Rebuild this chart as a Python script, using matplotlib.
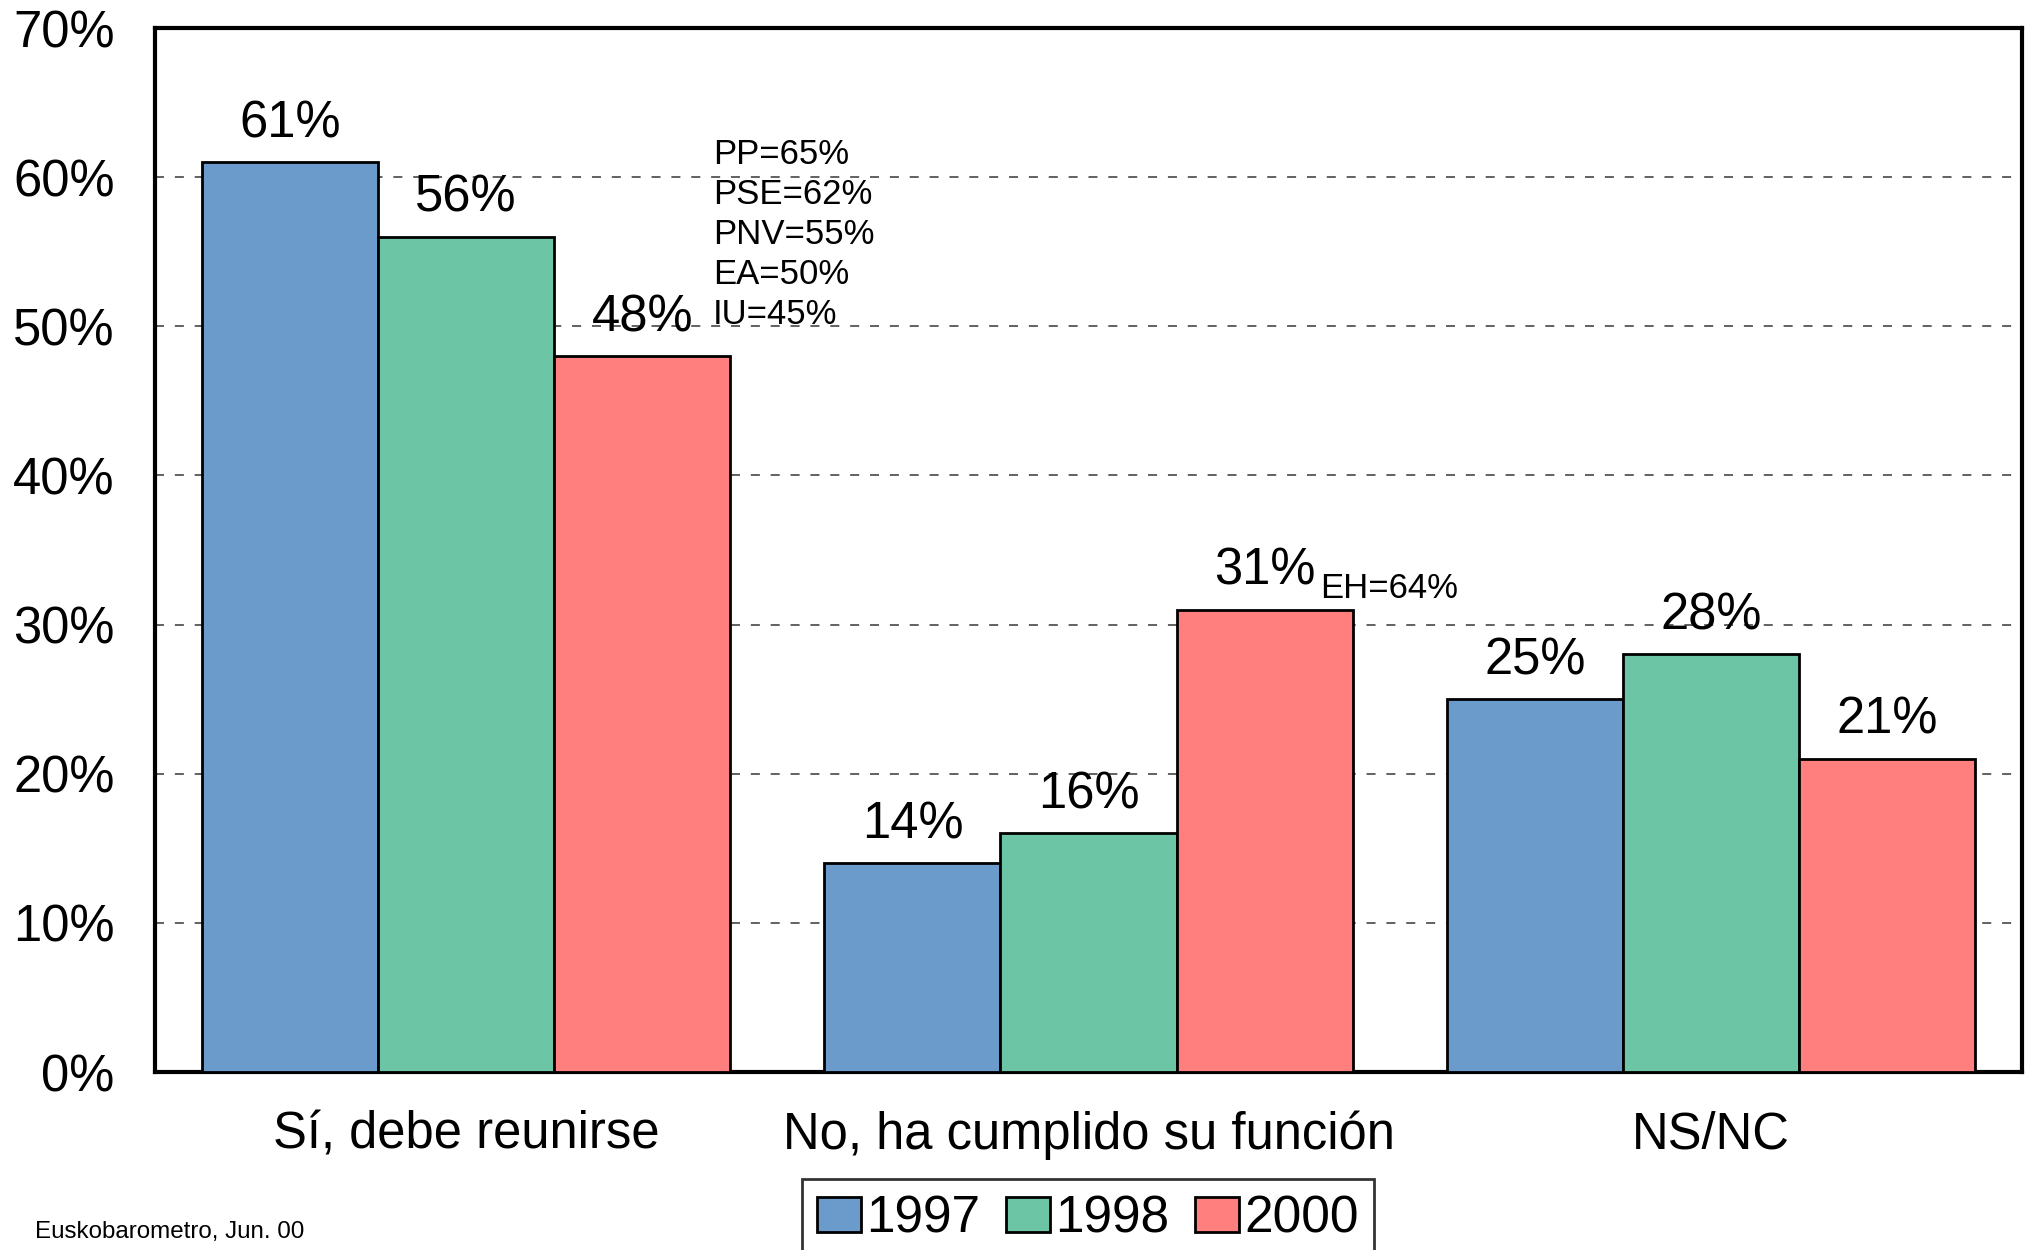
import matplotlib
matplotlib.use('Agg')
from matplotlib import pyplot as plt
import numpy as np

categories = ['Sí, debe reunirse', 'No, ha cumplido su función', 'NS/NC']
years = ['1997', '1998', '2000']
values_1997 = [61, 14, 25]
values_1998 = [56, 16, 28]
values_2000 = [48, 31, 21]
party_notes = ['PP=65%', 'PSE=62%', 'PNV=55%', 'EA=50%', 'IU=45%']
eh_note = 'EH=64%'
source = 'Euskobarometro, Jun. 00'

colors = ['#6a9bcb', '#6cc6a6', '#ff7f7f']

plt.rcParams['font.family'] = ['Liberation Sans', 'DejaVu Sans']

fig = plt.figure(figsize=(20.31, 12.5), dpi=100)
ax = fig.add_axes([155 / 2031, 1 - 1072 / 1250, 1867 / 2031, 1044 / 1250])

x = np.arange(len(categories))
width = 0.283
series = [values_1997, values_1998, values_2000]
for i, (vals, year) in enumerate(zip(series, years)):
    pos = x + (i - 1) * width
    ax.bar(pos, vals, width, color=colors[i], edgecolor='black',
           linewidth=2, label=year, zorder=3)
    for px, v in zip(pos, vals):
        ax.annotate(f'{v}%', (px, v), xytext=(0, 10), textcoords='offset points',
                    ha='center', va='bottom', fontsize=36.5)

ax.set_xlim(-0.5, 2.5)
ax.set_ylim(0, 70)
ax.set_yticks(range(0, 80, 10))
ax.set_yticklabels([f'{t}%' for t in range(0, 80, 10)], fontsize=36.5)
ax.set_xticks(x)
ax.set_xticklabels(categories, fontsize=36.5)
ax.tick_params(axis='both', length=0)
ax.tick_params(axis='y', pad=29)
ax.tick_params(axis='x', pad=28)
for t in range(10, 70, 10):
    ax.axhline(t, color='#555555', linestyle=(0, (5, 6)), linewidth=1.3, zorder=1)
for s in ax.spines.values():
    s.set_linewidth(3)

# party breakdown notes
for k, note in enumerate(party_notes):
    ax.text(0.397, 61.5 - k * 2.68, note, fontsize=25, va='center', ha='left')
ax.text(1.372, 32.4, eh_note, fontsize=25, va='center', ha='left')

fig.text(35 / 2031, 1 - 1238 / 1250, source, fontsize=17.4, ha='left', va='baseline')

leg = fig.legend(loc='upper center', bbox_to_anchor=(1088 / 2031, 1 - 1179 / 1250),
                 ncol=3, fontsize=37, frameon=True, fancybox=False,
                 handlelength=0.86, handleheight=0.68, handletextpad=0.1,
                 columnspacing=0.5, borderpad=0.3, borderaxespad=0)
leg.get_frame().set_edgecolor('black')
leg.get_frame().set_linewidth(2)

fig.savefig('out.png', dpi=100)
